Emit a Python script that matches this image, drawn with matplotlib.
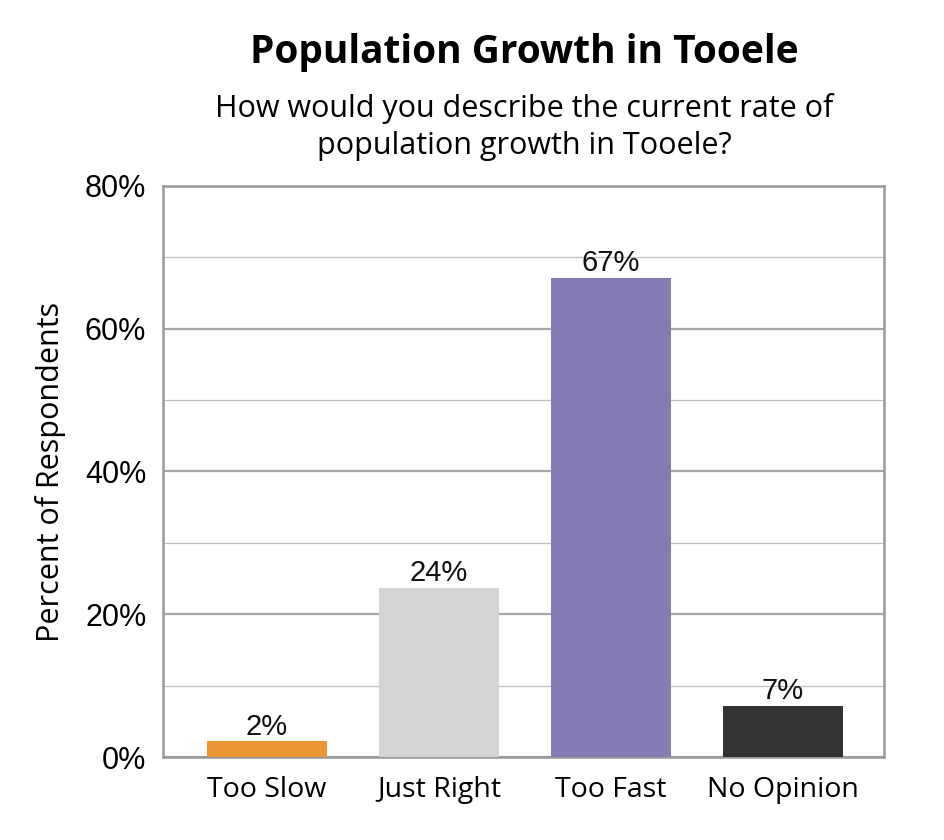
import matplotlib
matplotlib.use("Agg")
import matplotlib.pyplot as plt
from matplotlib.ticker import MultipleLocator, FuncFormatter

categories = ["Too Slow", "Just Right", "Too Fast", "No Opinion"]
values = [0.022, 0.237, 0.671, 0.072]
labels = ["2%", "24%", "67%", "7%"]
colors = ["#ED9434", "#D4D4D4", "#877BB5", "#333333"]
yticks = [0, 0.2, 0.4, 0.6, 0.8]

fig = plt.figure(figsize=(9.45, 8.4), dpi=100)
ax = fig.add_axes([0.1725, 0.0988, 0.7629, 0.6798])

x = list(range(len(categories)))
ax.bar(x, values, width=0.70, color=colors, zorder=3)
ax.set_xlim(-0.605, 3.587)
ax.set_ylim(0, 0.8)
ax.set_yticks(yticks)
ax.yaxis.set_minor_locator(MultipleLocator(0.1))
ax.yaxis.set_major_formatter(FuncFormatter(lambda v, p: f"{v*100:.0f}%"))
ax.grid(axis="y", which="major", color="#A6A6A6", linewidth=1.6, zorder=0)
ax.grid(axis="y", which="minor", color="#BFBFBF", linewidth=0.9, zorder=0)
ax.tick_params(axis="y", which="both", length=0, labelsize=22, pad=12)
ax.tick_params(axis="x", length=0, labelsize=20.5, pad=14)
ax.set_xticks(x)
ax.set_xticklabels(categories, family="Open Sans")
for lbl in ax.get_yticklabels():
    lbl.set_family("Liberation Sans")
for s in ax.spines.values():
    s.set_color("#999999")
    s.set_linewidth(1.8)

for xi, v, t in zip(x, values, labels):
    ax.text(xi, v + 0.001, t, ha="center", va="bottom", fontsize=21,
            family="Liberation Sans", color="#111111", zorder=4)

ax.set_ylabel("Percent of Respondents", fontsize=22, family="Open Sans", labelpad=14)

fig.text(0.555, 0.937, "Population Growth in Tooele", ha="center", va="center",
         fontsize=28, fontweight="bold", family="Open Sans")
fig.text(0.555, 0.849, "How would you describe the current rate of\npopulation growth in Tooele?",
         ha="center", va="center", fontsize=22, family="Open Sans", linespacing=1.3)

fig.savefig("out.png", dpi=100)
